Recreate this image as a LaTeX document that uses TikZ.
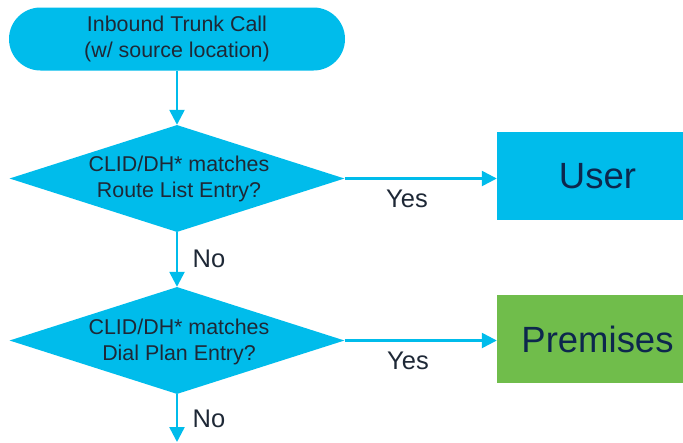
\documentclass[tikz,border=0pt]{standalone}
\usepackage{fontspec}
\setmainfont{Liberation Sans}
\usetikzlibrary{shapes.geometric,arrows.meta}
\definecolor{flowcyan}{HTML}{00BCEB}
\definecolor{flowgreen}{HTML}{70BD4B}
\definecolor{textgray}{HTML}{1E2836}
\definecolor{textnavy}{HTML}{0D274D}
\begin{document}
\begin{tikzpicture}[x=1pt,y=-1pt,
  terminal/.style={rectangle, rounded corners=31.5pt, fill=flowcyan,
    minimum width=336pt, minimum height=63pt, inner sep=0pt,
    font=\fontsize{21.4}{25.5}\selectfont, align=center, text=textgray},
  decision/.style={diamond, fill=flowcyan, minimum width=335pt,
    minimum height=107pt, inner sep=0pt},
  dtext/.style={font=\fontsize{21.4}{25.5}\selectfont, align=center,
    text=textgray, inner sep=0pt},
  outcome/.style={rectangle, minimum width=201pt, minimum height=88pt,
    inner sep=0pt, font=\fontsize{36.5}{40}\selectfont, text=textnavy},
  answer/.style={font=\fontsize{25.5}{28}\selectfont, text=textgray, inner sep=0pt},
  flow/.style={draw=flowcyan, line width=2.5pt,
    -{Triangle[length=15pt,width=15pt]}}
]
\useasboundingbox (0,0) rectangle (683,442);

% start of the call flow
\node[terminal] (start) at (177,39) {Inbound Trunk Call\\(w/ source location)};

% first check: route list
\node[decision] (d1) at (177,178.5) {};
\node[dtext] (d1t) at (179,179) {CLID/DH* matches\\Route List Entry?};

% second check: dial plan
\node[decision] (d2) at (177,340.5) {};
\node[dtext] (d2t) at (179,342) {CLID/DH* matches\\Dial Plan Entry?};

% outcomes
\node[outcome, fill=flowcyan] (user) at (597.5,176) {User};
\node[outcome, fill=flowgreen] (prem) at (597.5,339) {Premises};

\coordinate (exit) at (177,442);

% connectors
\draw[flow] (start) -- (d1);
\draw[flow] (d1.east) -- (d1.east -| user.west);
\draw[flow] (d1) -- (d2);
\draw[flow] (d2.east) -- (d2.east -| prem.west);
\draw[flow] (d2) -- (exit);

% branch labels
\node[answer] (y1) at (407,199) {Yes};
\node[answer] (n1) at (209,259) {No};
\node[answer] (y2) at (408,361) {Yes};
\node[answer] (n2) at (209,419) {No};
\end{tikzpicture}
\end{document}
